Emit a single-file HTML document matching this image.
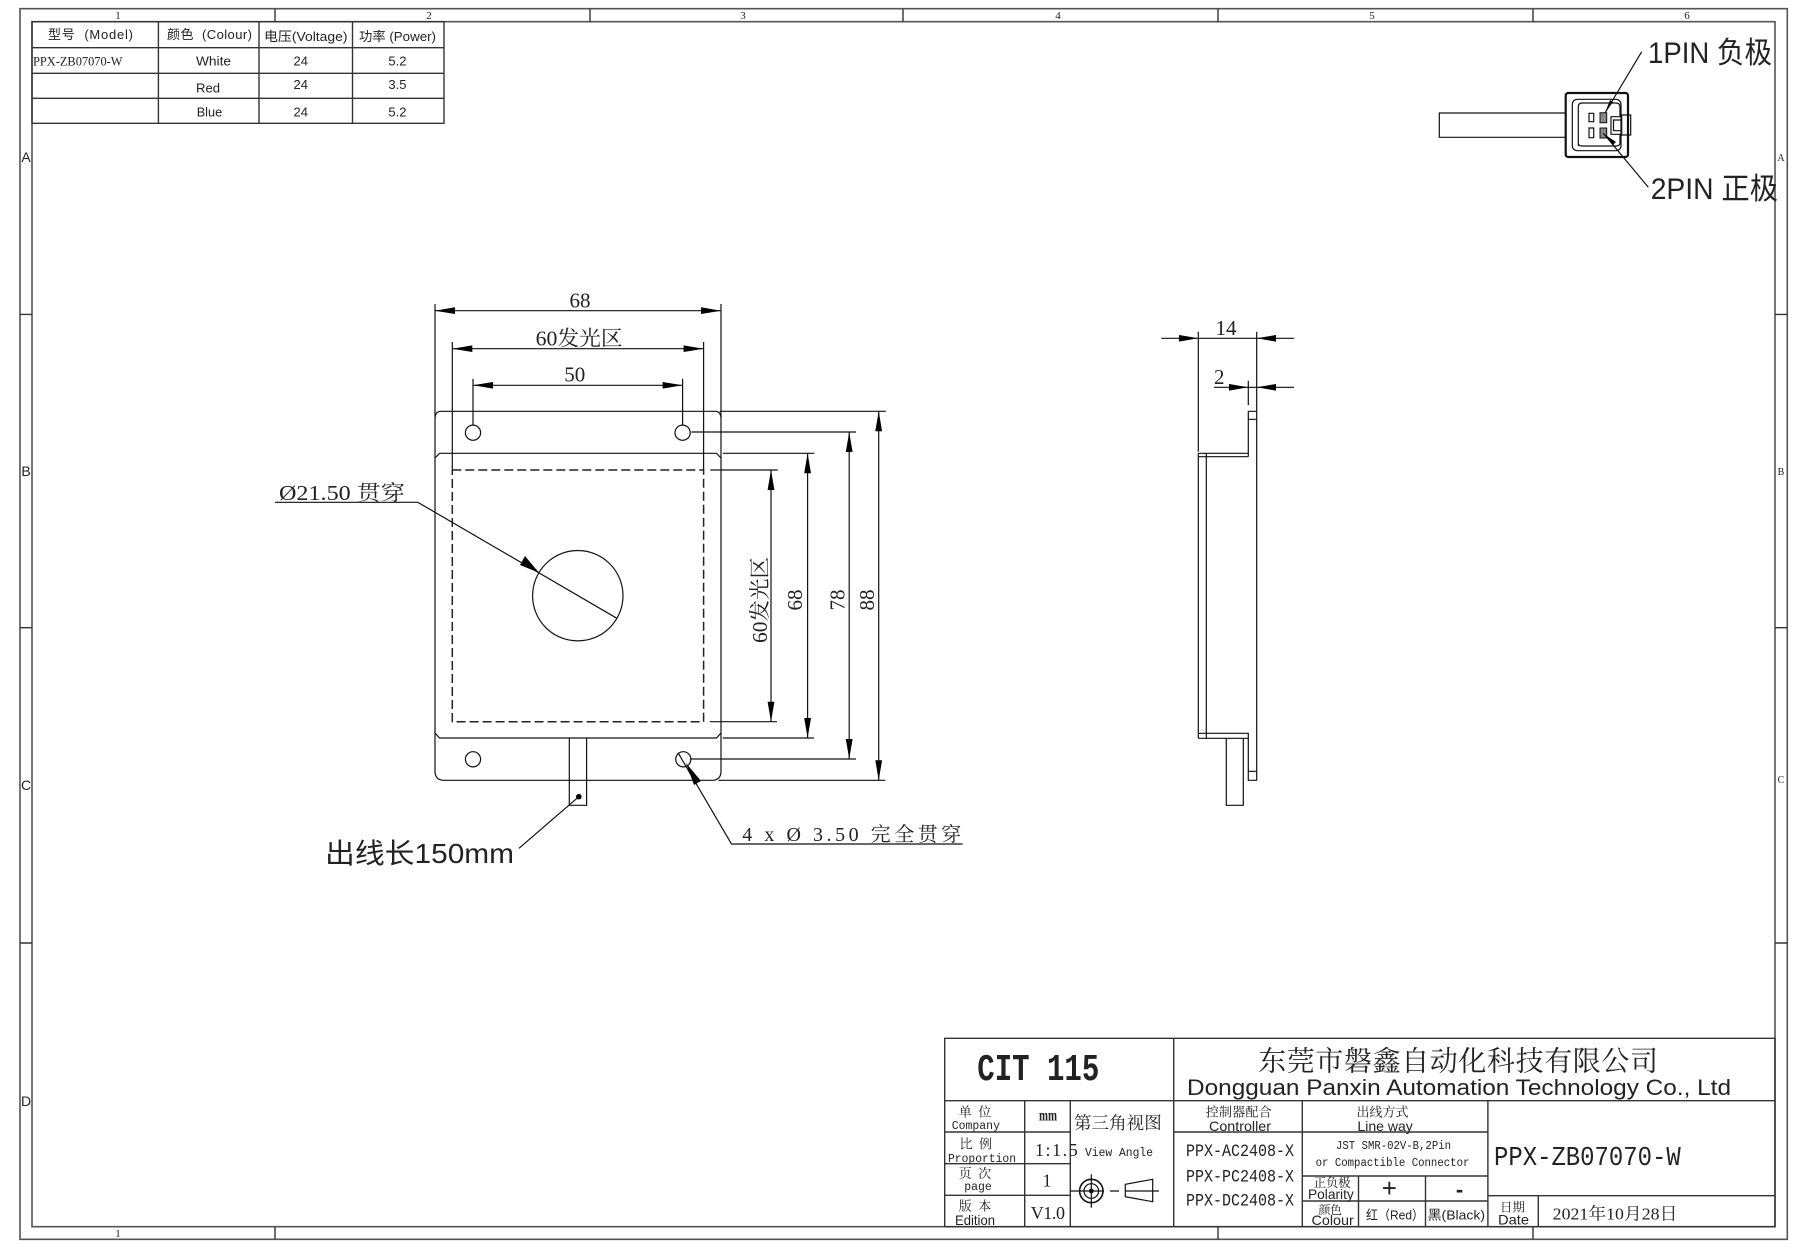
<!DOCTYPE html>
<html><head><meta charset="utf-8"><style>
html,body{margin:0;padding:0;background:#fff}
svg{display:block}
text{fill:#222}
.s{font-family:"Liberation Serif","Noto Serif CJK SC",serif}
.m{font-family:"Liberation Mono","Noto Serif CJK SC",monospace}
.a{font-family:"Liberation Sans","Noto Sans CJK SC",sans-serif}
.l{stroke:#111;stroke-width:1.2;fill:none}
.f{stroke:#555;stroke-width:1.6;fill:none}
.t{stroke:#333;stroke-width:1.4;fill:none}
.ah{fill:#000;stroke:none}
</style></head><body>
<svg width="1813" height="1255" viewBox="0 0 1813 1255" xmlns="http://www.w3.org/2000/svg">
<rect x="0" y="0" width="1813" height="1255" fill="#fff"/>
<!-- frame -->
<path class="f" d="M20 8.7H1787.3V1239.3H20Z"/>
<path class="f" d="M32 21.7H1775V1226.7H32Z"/>
<path class="t" d="M275 8.7V21.7M590 8.7V21.7M903 8.7V21.7M1218 8.7V21.7M1533 8.7V21.7M275 1226.7V1239.3M1218 1226.7V1239.3M1533 1226.7V1239.3M20 314.4H32M20 627.7H32M20 943H32M1775 314.4H1787.3M1775 627.7H1787.3M1775 943H1787.3"/>
<g class="s" font-size="11" text-anchor="middle"><text x="118" y="19">1</text><text x="429" y="19">2</text><text x="743" y="19">3</text><text x="1058" y="19">4</text><text x="1372" y="19">5</text><text x="1687" y="19">6</text><text x="118" y="1237">1</text><text x="1781" y="161" font-size="10">A</text><text x="1781" y="475" font-size="10">B</text><text x="1781" y="783" font-size="10">C</text></g>
<g class="a" font-size="14" text-anchor="middle"><text x="26" y="162">A</text><text x="26" y="476">B</text><text x="26" y="790">C</text><text x="26" y="1106">D</text></g>

<!-- top-left table -->
<path class="t" d="M32 21.7H444V123.3H32ZM32 47.7H444M32 73.3H444M32 98.3H444M158.4 21.7V123.3M259 21.7V123.3M352.5 21.7V123.3"/>
<g class="a" font-size="13">
<text x="48" y="39" textLength="85" lengthAdjust="spacing">型号 &#160;(Model)</text>
<text x="167" y="39" textLength="85" lengthAdjust="spacing">颜色 &#160;(Colour)</text>
<text x="264" y="41" textLength="83.5" lengthAdjust="spacingAndGlyphs">电压(Voltage)</text>
<text x="359" y="41" textLength="77" lengthAdjust="spacingAndGlyphs">功率 (Power)</text>
<text x="196" y="65.7" textLength="35" lengthAdjust="spacingAndGlyphs">White</text>
<text x="196" y="92.7" textLength="24" lengthAdjust="spacingAndGlyphs">Red</text>
<text x="196.7" y="116.7" textLength="25.5" lengthAdjust="spacingAndGlyphs">Blue</text>
<text x="293.5" y="65.7">24</text><text x="293.5" y="89">24</text><text x="293.5" y="116.7">24</text>
<text x="388.4" y="65.7">5.2</text><text x="388.4" y="89">3.5</text><text x="388.4" y="116.7">5.2</text>
</g>
<text class="s" x="33" y="65.7" font-size="12.5" textLength="89.5" lengthAdjust="spacingAndGlyphs">PPX-ZB07070-W</text>

<!-- connector -->
<path class="l" d="M1565.7 113H1439.3V137.3H1565.7"/>
<rect x="1565.7" y="93" width="62.3" height="64" rx="2.5" fill="none" stroke="#111" stroke-width="2.2"/>
<rect x="1572.3" y="99.3" width="48.7" height="51.4" rx="5" class="l"/>
<path class="l" d="M1578.3 146V107Q1578.3 103 1582 103H1616Q1620 103 1620 107V116M1578.3 143Q1578.3 146 1582 146H1616Q1620 146 1620 143V134"/>
<path class="l" stroke-width="1" d="M1589 113.3h4.7v8.4h-4.7zM1589 128h4.7v9.7h-4.7z"/>
<path fill="#888" stroke="#111" d="M1600 112.7h6.7v10h-6.7zM1600 128h6.7v10h-6.7z"/>
<path class="l" d="M1611 116.7H1621.7V134.3H1611ZM1613.5 120H1621.7V130.7H1613.5ZM1621.7 115H1630.7V135H1621.7ZM1628 115V135"/>
<path class="l" d="M1641.7 51.7L1605 113M1648.3 187.3L1603.3 133.3"/>
<polygon class="ah" points="1605,113 1610,100 1613,102"/>
<polygon class="ah" points="1604,134 1613,145 1616,142"/>
<text class="a" x="1648" y="63" font-size="30" textLength="124" lengthAdjust="spacingAndGlyphs" fill="#333">1PIN 负极</text>
<text class="a" x="1650.7" y="199" font-size="30" textLength="127.3" lengthAdjust="spacingAndGlyphs" fill="#333">2PIN 正极</text>

<!-- main panel -->
<path class="l" d="M435 304V771Q435 780.3 444 780.3H712Q721 780.3 721 771V304M435 419Q435 411.3 441 411.3H715Q721 411.3 721 419"/>
<path class="l" d="M435 458L439.5 453.3H716.5L721 458M435 733L439.5 738H716.5L721 733"/>
<path class="l" d="M452.3 342V470M703.6 342V470M473 378.7V425M682.6 378.7V425"/>
<path stroke="#222" stroke-width="1.5" fill="none" stroke-dasharray="9 4" d="M452.3 470H703.6V721.7H452.3Z"/>
<circle cx="473" cy="432.7" r="7.6" class="l"/><circle cx="682.6" cy="432.7" r="7.6" class="l"/>
<circle cx="473" cy="759.3" r="7.6" class="l"/><circle cx="683.3" cy="759.3" r="7.6" class="l"/>
<circle cx="577.8" cy="595.7" r="45.2" class="l"/>
<path class="l" d="M569.3 738V805.3H586.6V738"/>
<circle cx="578.8" cy="796.7" r="2.8" fill="#000"/>
<path class="l" d="M578.8 796.7L519 848.3"/>
<!-- horizontal dims -->
<path class="l" d="M435 310.7H721M452.3 348.7H703.6M473 385.3H682.6"/>
<polygon class="ah" points="435,310.7 455,307.3 455,314"/><polygon class="ah" points="721,310.7 701,307.3 701,314"/>
<polygon class="ah" points="452.3,348.7 472.3,345.4 472.3,352"/><polygon class="ah" points="703.6,348.7 683.6,345.4 683.6,352"/>
<polygon class="ah" points="473,385.3 493,382 493,388.6"/><polygon class="ah" points="682.6,385.3 662.6,382 662.6,388.6"/>
<g class="s" font-size="21" text-anchor="middle"><text x="580" y="307.7">68</text><text x="574.8" y="381.7">50</text></g>
<text class="s" x="535.7" y="345.7" font-size="21" textLength="87" lengthAdjust="spacingAndGlyphs">60发光区</text>
<!-- vertical dims -->
<path class="l" d="M719.6 411.3H885.8M691.4 432H856M723 453.3H814.3M710.3 470H777.7M709.8 721.7H777M722.8 738H813.9M690 759H856M718.5 780.3H885.4"/>
<path class="l" d="M771 470V721.7M807.6 453.3V738M849.2 432V759M878.7 411.3V780.3"/>
<g class="ah">
<polygon points="771,470 767.6,490 774.4,490"/><polygon points="771,721.7 767.6,701.7 774.4,701.7"/>
<polygon points="807.6,453.3 804.2,473.3 811,473.3"/><polygon points="807.6,738 804.2,718 811,718"/>
<polygon points="849.2,432 845.8,452 852.6,452"/><polygon points="849.2,759 845.8,739 852.6,739"/>
<polygon points="878.7,411.3 875.3,431.3 882.1,431.3"/><polygon points="878.7,780.3 875.3,760.3 882.1,760.3"/>
</g>
<g class="s" font-size="21" text-anchor="middle">
<text transform="translate(767 600) rotate(-90)" textLength="86" lengthAdjust="spacingAndGlyphs">60发光区</text>
<text transform="translate(802 600) rotate(-90)">68</text>
<text transform="translate(844.5 600) rotate(-90)">78</text>
<text transform="translate(874 600) rotate(-90)">88</text>
</g>
<!-- leaders -->
<path class="l" d="M275 502.3H417.8L616.9 618.3"/>
<polygon class="ah" points="539,572.7 520,565 525,556"/>
<text class="s" x="279" y="500" font-size="21" textLength="126" lengthAdjust="spacingAndGlyphs">Ø21.50 贯穿</text>
<path class="l" d="M678 752.7L731.5 844H962.6"/>
<polygon class="ah" points="686,763 701,781 694,785"/>
<text class="s" x="742.3" y="841" font-size="20" textLength="219" lengthAdjust="spacing">4 x Ø 3.50 完全贯穿</text>
<text class="a" x="325" y="863" font-size="28" textLength="189" lengthAdjust="spacingAndGlyphs" fill="#333">出线长150mm</text>

<!-- side view -->
<path class="l" d="M1198.3 331.7V451.7M1198.3 453.3V738.3M1206.3 453.3V738.3M1256.7 331.7V780.3M1248.3 380.7V405M1248.3 411.3V456.7M1248.3 411.3H1256.7M1248.3 419.3H1256.7M1198.3 453.3H1248.3M1198.3 456.7H1248.3M1198.3 733.3H1248.3V780.3H1257M1198.3 738.3H1248.3M1248.3 771.3H1256.7M1226.3 738.3V805.3H1243.3V738.3"/>
<path class="l" d="M1161.3 338.3H1294M1214 387.3H1294"/>
<polygon class="ah" points="1198.3,338.3 1179,335 1179,341.6"/><polygon class="ah" points="1256.7,338.3 1276,335 1276,341.6"/>
<polygon class="ah" points="1248.3,387.3 1229,384 1229,390.6"/><polygon class="ah" points="1256.7,387.3 1276,384 1276,390.6"/>
<g class="s" font-size="21" text-anchor="middle"><text x="1226" y="335">14</text><text x="1219.3" y="384">2</text></g>

<!-- title block -->
<path class="t" d="M944.7 1038.3H1775V1226.7H944.7ZM944.7 1100.7H1775M1173.7 1038.3V1226.7M1024.7 1100.7V1226.7M1070.3 1100.7V1226.7M1302.3 1100.7V1226.7M944.7 1132H1070.3M944.7 1163.7H1070.3M944.7 1195.3H1070.3M1173.7 1132H1487.9M1302.3 1176H1487.9M1302.3 1201H1487.9M1358.5 1176V1226.7M1425.5 1176V1226.7M1487.9 1100.7V1226.7M1487.9 1195.7H1775M1538.3 1195.7V1226.7"/>
<text class="m" x="977.3" y="1080" font-size="38" textLength="122" lengthAdjust="spacingAndGlyphs" font-weight="700">CIT 115</text>
<text class="s" x="1258.2" y="1070.5" font-size="28" textLength="399.8" lengthAdjust="spacing">东莞市磐鑫自动化科技有限公司</text>
<text class="a" x="1187" y="1095" font-size="22" textLength="544" lengthAdjust="spacingAndGlyphs" fill="#333">Dongguan Panxin Automation Technology Co., Ltd</text>
<g class="s" font-size="13" text-anchor="middle">
<text x="975" y="1116.7">单 &#160;位</text><text x="975.7" y="1148.7">比 &#160;例</text><text x="975" y="1178">页 &#160;次</text><text x="975" y="1210.7">版 &#160;本</text>
</g>
<g class="m" font-size="11.5">
<text x="951.7" y="1129" textLength="48.3" lengthAdjust="spacingAndGlyphs">Company</text>
<text x="948" y="1162" textLength="68" lengthAdjust="spacingAndGlyphs">Proportion</text>
<text x="978" y="1190" text-anchor="middle">page</text>
<text x="1085" y="1156" textLength="68" lengthAdjust="spacingAndGlyphs">View Angle</text>
</g>
<text class="a" x="955" y="1225" font-size="14" textLength="40" lengthAdjust="spacingAndGlyphs">Edition</text>
<text class="s" x="1048" y="1120.7" font-size="16" text-anchor="middle" textLength="18" lengthAdjust="spacingAndGlyphs" font-weight="700">mm</text>
<text class="s" x="1035" y="1156" font-size="18" textLength="42.7" lengthAdjust="spacing">1:1.5</text>
<text class="s" x="1047" y="1186.7" font-size="18" text-anchor="middle">1</text>
<text class="s" x="1030.7" y="1219" font-size="18" textLength="34.3" lengthAdjust="spacing">V1.0</text>
<text class="s" x="1074" y="1129" font-size="17.5" textLength="87.7" lengthAdjust="spacing">第三角视图</text>
<!-- third angle symbol -->
<circle cx="1091.3" cy="1191" r="11.7" stroke="#111" stroke-width="1.6" fill="none"/><circle cx="1091.3" cy="1191" r="7.3" class="l"/><circle cx="1091.3" cy="1191" r="2.4" fill="#111"/>
<path class="l" d="M1070 1191H1104M1091.3 1174.3V1207.7M1110 1191H1119M1125 1191H1159"/>
<path class="l" d="M1125.3 1184.3L1152.7 1179.3V1201.7L1125.3 1196.7Z"/>

<text class="s" x="1205.7" y="1116.7" font-size="13" textLength="66" lengthAdjust="spacing">控制器配合</text>
<text class="a" x="1209" y="1131" font-size="14" textLength="62" lengthAdjust="spacingAndGlyphs">Controller</text>
<g class="m" font-size="17.5">
<text x="1186" y="1156" textLength="108" lengthAdjust="spacingAndGlyphs">PPX-AC2408-X</text>
<text x="1186" y="1181.7" textLength="108" lengthAdjust="spacingAndGlyphs">PPX-PC2408-X</text>
<text x="1186" y="1205.7" textLength="108" lengthAdjust="spacingAndGlyphs">PPX-DC2408-X</text>
</g>
<text class="s" x="1382.5" y="1116.7" font-size="13" text-anchor="middle">出线方式</text>
<text class="a" x="1357.4" y="1131" font-size="14" textLength="55.4" lengthAdjust="spacingAndGlyphs">Line way</text>
<text class="m" x="1336" y="1149" font-size="11.5" textLength="115" lengthAdjust="spacingAndGlyphs">JST SMR-02V-B,2Pin</text>
<text class="m" x="1315.6" y="1166" font-size="11.5" textLength="153.8" lengthAdjust="spacingAndGlyphs">or Compactible Connector</text>
<text class="s" x="1313.6" y="1187" font-size="12.5" textLength="37" lengthAdjust="spacing">正负极</text>
<text class="a" x="1308" y="1199" font-size="14" textLength="45.8" lengthAdjust="spacingAndGlyphs">Polarity</text>
<text class="a" x="1389.4" y="1197" font-size="26" text-anchor="middle">+</text>
<text class="a" x="1459.6" y="1197" font-size="22" text-anchor="middle" font-weight="700">-</text>
<text class="s" x="1318.5" y="1214" font-size="12" textLength="23.5" lengthAdjust="spacing">颜色</text>
<text class="a" x="1311.5" y="1225" font-size="14" textLength="42.3" lengthAdjust="spacingAndGlyphs">Colour</text>
<text class="a" x="1366" y="1219.3" font-size="13" textLength="58" lengthAdjust="spacingAndGlyphs">红（Red）</text>
<text class="a" x="1427.6" y="1219.3" font-size="13" textLength="57.4" lengthAdjust="spacingAndGlyphs">黑(Black)</text>
<text class="m" x="1494" y="1165" font-size="27" textLength="186.7" lengthAdjust="spacingAndGlyphs">PPX-ZB07070-W</text>
<text class="s" x="1500" y="1211.7" font-size="12.5" textLength="25" lengthAdjust="spacing">日期</text>
<text class="a" x="1498" y="1224.3" font-size="14" textLength="31" lengthAdjust="spacingAndGlyphs">Date</text>
<text class="s" x="1552.7" y="1219.3" font-size="17" textLength="124.7" lengthAdjust="spacingAndGlyphs">2021年10月28日</text>
</svg>
</body></html>
